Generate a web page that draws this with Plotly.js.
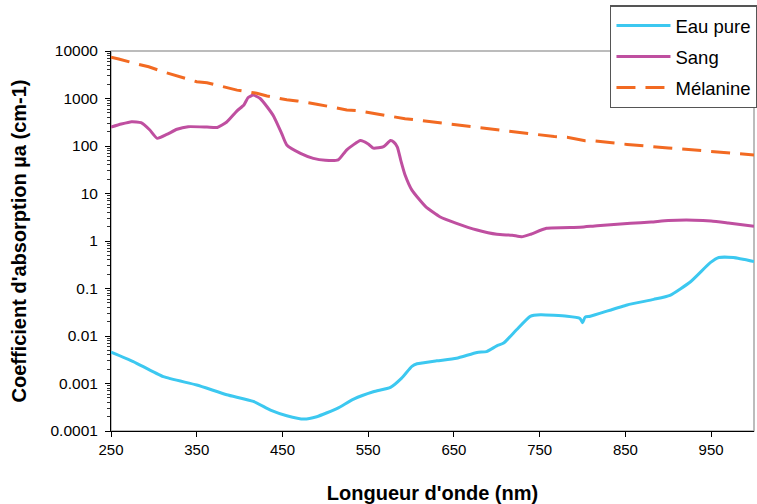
<!DOCTYPE html>
<html>
<head>
<meta charset="utf-8">
<script src="https://cdn.plot.ly/plotly-3.0.1.min.js"></script>
<style>html,body{margin:0;padding:0;background:#fff;}#chart{width:757px;height:504px;}</style>
</head>
<body>
<div id="chart"></div>
<script>
// Eau pure
const wlEau = [250,276,311,350,385,416,436,455,475,490,514,533,556,576,589,601,607,630,653,677,688,700,708,723,739,751,782,797,800,803,809,852,883,902,926,949,959,976,1000];
const eau = [0.0046,0.0029,0.00139,0.00093,0.00058,0.00042,0.000275,0.00021,0.000178,0.0002,0.0003,0.00047,0.00067,0.00083,0.0013,0.0023,0.0026,0.0030,0.0034,0.0045,0.0047,0.0062,0.0071,0.0135,0.026,0.028,0.026,0.0234,0.019,0.025,0.026,0.045,0.059,0.072,0.139,0.35,0.45,0.45,0.37];
// Sang
const wlSang = [250,262,274,285,295,304,315,327,340,362,374,385,397,405,410,416,424,432,440,449,455,471,486,500,515,525,541,550,556,568,576,580,584,588,593,601,617,634,653,677,700,718,729,739,758,797,817,856,880,900,930,950,970,1000];
const sang = [250,290,325,310,220,145,175,225,255,250,245,320,550,730,1050,1180,1000,670,415,185,105,70,55,50,51,83,130,110,90,97,130,120,95,50,24.5,11.8,5.3,3.2,2.35,1.7,1.38,1.32,1.23,1.38,1.85,1.95,2.1,2.35,2.5,2.7,2.75,2.65,2.4,2.05];
// Mélanine
const wlMel = [250,259,280,294,313,329,350,362,385,397,420,432,455,467,490,502,525,539,560,572,593,605,628,642,663,677,698,712,731,747,767,782,803,815,836,852,900,950,1000];
const mel = [7400,6800,5350,4650,3550,2960,2250,2150,1700,1500,1290,1130,940,890,760,690,575,550,470,425,375,355,316,300,263,243,218,207,187,170,158,152,129,127,114,108,91,78,65];

const seriesNames = ["Eau pure","Sang","Mélanine"];
const xTicks = [250,350,450,550,650,750,850,950];
const yTickVals = [0.0001,0.001,0.01,0.1,1,10,100,1000,10000];
const yTickText = ["0.0001","0.001","0.01","0.1","1","10","100","1000","10000"];

const traces = [
  {x: wlEau, y: eau, name: seriesNames[0], legendgroup: "a", mode: "lines", line: {color: "#3CC8F0", width: 3, shape: "spline", smoothing: 0.5}},
  {x: wlSang, y: sang, name: seriesNames[1], legendgroup: "b", mode: "lines", line: {color: "#BF4FA0", width: 3, shape: "spline", smoothing: 0.5}},
  {x: wlMel, y: mel, name: seriesNames[2], legendgroup: "c", mode: "lines", line: {color: "#F26A22", width: 3, dash: "19px,10px"}}
];

const layout = {
  width: 757, height: 504,
  margin: {l: 111, r: 3, t: 51, b: 73, autoexpand: false},
  paper_bgcolor: "#fff", plot_bgcolor: "#fff",
  font: {family: "Liberation Sans, Arial, sans-serif", color: "#000"},
  showlegend: true,
  legend: {
    x: 0.776, xanchor: "left", y: 1.12, yanchor: "top",
    bgcolor: "#fff", bordercolor: "#555", borderwidth: 1.5,
    font: {size: 18.5, color: "#000"},
    itemwidth: 54, traceorder: "grouped", tracegroupgap: 4
  },
  xaxis: {
    range: [250, 1000], tickmode: "array", tickvals: xTicks, ticktext: xTicks.map(String),
    ticks: "outside", ticklen: 5, tickcolor: "#000", tickwidth: 1,
    showline: true, linecolor: "#000", linewidth: 1, showgrid: false, zeroline: false,
    tickfont: {size: 15, color: "#000"},
    title: {text: "<b>Longueur d'onde (nm)</b>", font: {size: 20, color: "#000"}, standoff: 28}
  },
  yaxis: {
    type: "log", range: [-4, 4], tickmode: "array", tickvals: yTickVals, ticktext: yTickText,
    ticks: "outside", ticklen: 5, tickcolor: "#000", tickwidth: 1,
    minor: {ticks: "outside", ticklen: 3, tickcolor: "#333", dtick: "D1", showgrid: false},
    showline: true, linecolor: "#000", linewidth: 1, showgrid: false, zeroline: false,
    tickfont: {size: 15.5, color: "#000"}, ticklabelstandoff: 4,
    title: {text: "<b>Coefficient d'absorption µa (cm-1)</b>", font: {size: 20, color: "#000"}, standoff: 18}
  },
  shapes: [
    {type: "rect", xref: "paper", yref: "paper", x0: 0, x1: 1, y0: 0, y1: 1, line: {color: "#A6A6A6", width: 1.5}, layer: "below"}
  ]
};

Plotly.newPlot("chart", traces, layout, {staticPlot: true, displayModeBar: false});
</script>
</body>
</html>
